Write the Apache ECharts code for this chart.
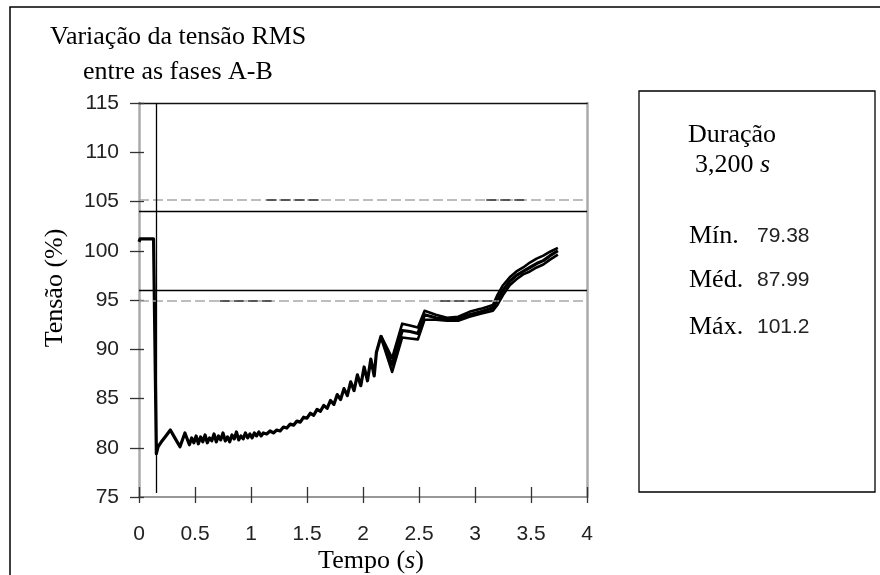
<!DOCTYPE html>
<html>
<head>
<meta charset="utf-8">
<script src="https://cdn.jsdelivr.net/npm/echarts@6/dist/echarts.min.js"></script>
<style>html,body{margin:0;padding:0;background:#fff}#c{width:880px;height:575px}</style>
</head>
<body>
<div id="c"></div>
<script>
// ---- data ----
const xTickLabels = ['0', '0.5', '1', '1.5', '2', '2.5', '3', '3.5', '4'];
const yTickLabels = ['75', '80', '85', '90', '95', '100', '105', '110', '115'];

const tempo = [0.00, 0.01, 0.13, 0.145, 0.155, 0.17, 0.20, 0.24, 0.28, 0.32, 0.366, 0.41, 0.45, 0.47, 0.49, 0.51, 0.53, 0.55, 0.57, 0.59, 0.61, 0.63, 0.65, 0.67, 0.69, 0.71, 0.73, 0.75, 0.77, 0.79, 0.81, 0.83, 0.85, 0.87, 0.89, 0.91, 0.93, 0.95, 0.97, 0.99, 1.01, 1.03, 1.05, 1.07, 1.09, 1.11, 1.14, 1.17, 1.20, 1.23, 1.26, 1.29, 1.32, 1.35, 1.38, 1.41, 1.44, 1.47, 1.50, 1.53, 1.56, 1.59, 1.62, 1.65, 1.68, 1.71, 1.74, 1.77, 1.80, 1.83, 1.86, 1.89, 1.92, 1.95, 1.98, 2.01, 2.04, 2.07, 2.10, 2.12, 2.16, 2.26, 2.35, 2.42, 2.49, 2.55, 2.65, 2.75, 2.85, 2.95, 3.05, 3.16, 3.20, 3.25, 3.31, 3.37, 3.43, 3.49, 3.55, 3.61, 3.67, 3.74];
const tensaoMed = [100.9, 101.2, 101.2, 101.0, 79.4, 80.1, 80.6, 81.2, 81.8, 81.0, 80.1, 81.5, 80.3, 81.0, 80.5, 81.2, 80.4, 81.1, 80.6, 81.3, 80.5, 81.0, 80.7, 81.4, 80.6, 81.2, 80.8, 81.5, 80.7, 81.1, 80.6, 81.3, 80.9, 81.6, 80.8, 81.2, 80.9, 81.5, 81.0, 81.4, 81.0, 81.5, 81.2, 81.6, 81.2, 81.5, 81.4, 81.7, 81.5, 81.8, 81.7, 82.1, 82.0, 82.4, 82.3, 82.7, 82.6, 83.1, 83.0, 83.5, 83.3, 83.9, 83.7, 84.3, 84.0, 84.8, 84.4, 85.4, 84.9, 86.0, 85.3, 86.7, 85.8, 87.4, 86.3, 88.2, 86.8, 89.0, 87.3, 89.7, 91.3, 88.4, 91.9, 91.8, 91.6, 93.5, 93.2, 93.0, 93.1, 93.5, 93.8, 94.2, 95.0, 96.0, 96.9, 97.5, 97.9, 98.3, 98.7, 99.0, 99.5, 100.0];

const tempoFaixa = [2.16, 2.26, 2.35, 2.42, 2.49, 2.55, 2.65, 2.75, 2.85, 2.95, 3.05, 3.16, 3.20, 3.25, 3.31, 3.37, 3.43, 3.49, 3.55, 3.61, 3.67, 3.74];
const tensaoMin = [91.2, 87.7, 91.2, 91.1, 91.0, 93.0, 93.0, 92.9, 92.9, 93.3, 93.6, 93.9, 94.5, 95.5, 96.5, 97.1, 97.6, 97.9, 98.3, 98.6, 99.1, 99.6];
const tensaoMax = [91.4, 89.1, 92.6, 92.4, 92.2, 93.9, 93.5, 93.2, 93.3, 93.8, 94.1, 94.5, 95.5, 96.5, 97.3, 97.9, 98.3, 98.8, 99.2, 99.5, 99.9, 100.3];

const limitesSolidos = [104, 96];
const limitesTracejados = [105.2, 94.9];
const trechosEscurosSup = [[1.14, 1.64], [3.10, 3.47]];
const trechosEscurosInf = [[0.72, 1.20], [2.69, 3.20]];
const instanteEvento = 0.15;

const tituloLinhas = ['Variação da tensão RMS', 'entre as fases A-B'];
const nomeEixoY = 'Tensão (%)';
const duracaoValor = '3,200';
const resumoRotulos = ['Mín.', 'Méd.', 'Máx.'];
const resumoValores = ['79.38', '87.99', '101.2'];

// ---- chart ----
const serif = '"Liberation Serif", "Times New Roman", serif';
const sans = '"Liberation Sans", Arial, sans-serif';
const xMin = +xTickLabels[0], xMax = +xTickLabels[xTickLabels.length - 1];
const xStep = +xTickLabels[1] - +xTickLabels[0];
const yMin = +yTickLabels[0], yMax = +yTickLabels[yTickLabels.length - 1];
const yStep = +yTickLabels[1] - +yTickLabels[0];

const pares = (xs, ys) => xs.map((x, i) => [x, ys[i]]);

const markData = [];
limitesSolidos.forEach(v => markData.push({ yAxis: v, lineStyle: { type: 'solid', color: '#000', width: 1.3 } }));
limitesTracejados.forEach(v => markData.push({ yAxis: v, lineStyle: { type: [10, 4], color: '#a8a8a8', width: 1.6 } }));
trechosEscurosSup.forEach(s => markData.push([{ coord: [s[0], limitesTracejados[0]], lineStyle: { type: [10, 4], color: '#333', width: 1.6 } }, { coord: [s[1], limitesTracejados[0]] }]));
trechosEscurosInf.forEach(s => markData.push([{ coord: [s[0], limitesTracejados[1]], lineStyle: { type: [10, 4], color: '#333', width: 1.6 } }, { coord: [s[1], limitesTracejados[1]] }]));
markData.push([{ coord: [instanteEvento, yMax], lineStyle: { type: 'solid', color: '#000', width: 1.3 } }, { coord: [instanteEvento, yMin + 0.4] }]);

const hiddenAxisBits = { axisLabel: { show: false }, splitLine: { show: false } };

const option = {
  animation: false,
  backgroundColor: '#fff',
  grid: { left: 139, right: 293, top: 103, bottom: 78 },
  xAxis: [
    { type: 'value', min: xMin, max: xMax, interval: xStep, position: 'bottom',
      axisLine: { onZero: false, lineStyle: { color: '#777', width: 1.5 } },
      axisTick: { length: 6, lineStyle: { color: '#333', width: 1.3 } },
      axisLabel: { margin: 27, fontFamily: sans, fontSize: 21, color: '#222' },
      splitLine: { show: false } },
    Object.assign({ type: 'value', min: xMin, max: xMax, interval: xStep, position: 'bottom',
      axisLine: { show: false, onZero: false },
      axisTick: { inside: true, length: 10, lineStyle: { color: '#333', width: 1.3 } } }, hiddenAxisBits),
    Object.assign({ type: 'value', min: xMin, max: xMax, position: 'top',
      axisLine: { onZero: false, lineStyle: { color: '#111', width: 1.3 } },
      axisTick: { show: false } }, hiddenAxisBits)
  ],
  yAxis: [
    { type: 'value', min: yMin, max: yMax, interval: yStep, position: 'left',
      axisLine: { show: true, onZero: false, lineStyle: { color: '#aaa', width: 2.5 } },
      axisTick: { show: true, length: 9, lineStyle: { color: '#333', width: 1.3 } },
      axisLabel: { margin: 20, fontFamily: sans, fontSize: 21, color: '#222' },
      splitLine: { show: false } },
    Object.assign({ type: 'value', min: yMin, max: yMax, interval: yStep, position: 'left',
      axisLine: { show: false, onZero: false },
      axisTick: { show: true, inside: true, length: 5, lineStyle: { color: '#333', width: 1.3 } } }, hiddenAxisBits),
    Object.assign({ type: 'value', min: yMin, max: yMax, position: 'right',
      axisLine: { show: true, onZero: false, lineStyle: { color: '#aaa', width: 2.5 } },
      axisTick: { show: false } }, hiddenAxisBits)
  ],
  series: [
    { name: 'faixaBase', type: 'line', stack: 'faixa', symbol: 'none', silent: true,
      lineStyle: { width: 0, opacity: 0 },
      data: pares(tempoFaixa, tensaoMin), z: 1 },
    { name: 'faixa', type: 'line', stack: 'faixa', symbol: 'none', silent: true,
      lineStyle: { width: 0, opacity: 0 },
      areaStyle: { color: '#cfcfcf', opacity: 1 },
      data: pares(tempoFaixa, tensaoMax.map((v, i) => v - tensaoMin[i])), z: 1 },
    { name: 'mín', type: 'line', symbol: 'none', silent: true,
      lineStyle: { color: '#000', width: 2.6, join: 'round' }, data: pares(tempoFaixa, tensaoMin), z: 3 },
    { name: 'máx', type: 'line', symbol: 'none', silent: true,
      lineStyle: { color: '#000', width: 2.6, join: 'round' }, data: pares(tempoFaixa, tensaoMax), z: 3 },
    { name: 'méd', type: 'line', symbol: 'none', silent: true,
      lineStyle: { color: '#000', width: 3.2, join: 'round' }, data: pares(tempo, tensaoMed), z: 4,
      markLine: { silent: true, symbol: ['none', 'none'], label: { show: false }, animation: false, data: markData } }
  ],
  graphic: [
    { type: 'rect', shape: { x: 10, y: 7, width: 900, height: 600 }, style: { fill: 'none', stroke: '#000', lineWidth: 1.5 }, silent: true },
    { type: 'rect', shape: { x: 639, y: 91, width: 236, height: 401 }, style: { fill: 'none', stroke: '#000', lineWidth: 1.3 }, silent: true },
    { type: 'text', x: 50, y: 37, style: { text: tituloLinhas[0], font: '26px ' + serif, fill: '#000', align: 'left', verticalAlign: 'middle' } },
    { type: 'text', x: 83, y: 72, style: { text: tituloLinhas[1], font: '26px ' + serif, fill: '#000', align: 'left', verticalAlign: 'middle' } },
    { type: 'text', x: 55, y: 288, rotation: Math.PI / 2, style: { text: nomeEixoY, font: '26px ' + serif, fill: '#000', align: 'center', verticalAlign: 'middle' } },
    { type: 'text', x: 371, y: 561, style: { text: 'Tempo ({i|s})', font: '26px ' + serif, fill: '#000', align: 'center', verticalAlign: 'middle',
      rich: { i: { fontStyle: 'italic', fontFamily: serif, fontSize: 26 } } } },
    { type: 'text', x: 688, y: 135, style: { text: 'Duração', font: '26px ' + serif, fill: '#000', align: 'left', verticalAlign: 'middle' } },
    { type: 'text', x: 695, y: 165, style: { text: duracaoValor + ' {i|s}', font: '26px ' + serif, fill: '#000', align: 'left', verticalAlign: 'middle',
      rich: { i: { fontStyle: 'italic', fontFamily: serif, fontSize: 26 } } } }
  ].concat(resumoRotulos.map((r, i) => ({ type: 'text', x: 689, y: [236, 280, 327][i], style: { text: r, font: '26px ' + serif, fill: '#000', align: 'left', verticalAlign: 'middle' } })))
   .concat(resumoValores.map((v, i) => ({ type: 'text', x: 757, y: [236, 280, 327][i], style: { text: v, font: '21px ' + sans, fill: '#222', align: 'left', verticalAlign: 'middle' } })))
};

const chart = echarts.init(document.getElementById('c'), null, { renderer: 'canvas' });
chart.setOption(option);
</script>
</body>
</html>
